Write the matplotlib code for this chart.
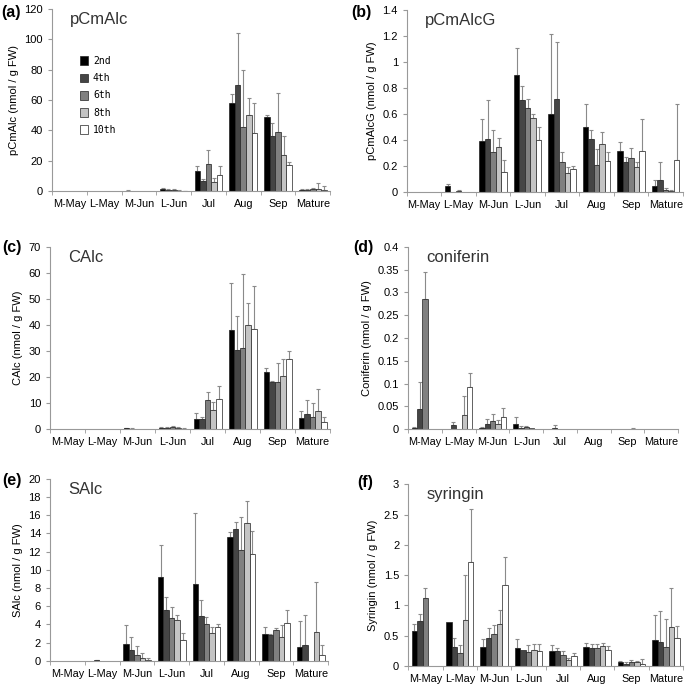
import numpy as np
import matplotlib
matplotlib.use("Agg")
import matplotlib.pyplot as plt
from matplotlib.ticker import FuncFormatter

plt.rcParams['font.family'] = ['Liberation Sans', 'DejaVu Sans']

months = ["M-May", "L-May", "M-Jun", "L-Jun", "Jul", "Aug", "Sep", "Mature"]
leaves = ["2nd", "4th", "6th", "8th", "10th"]
colours = ["#000000", "#454545", "#808080", "#c4c4c4", "#ffffff"]

# rows = months, columns = leaf position
pcmalc = [[0, 0, 0, 0, 0], [0, 0, 0, 0, 0], [0.3, 0, 0, 0, 0],
          [1.2, 0.8, 0.6, 0.3, 0.2], [13, 6.5, 18, 6, 10.5],
          [58, 70, 42, 50, 38], [48.5, 36.5, 39, 24, 17],
          [0.5, 0.8, 1, 1.5, 0.6]]
pcmalc_err = [[0, 0, 0, 0, 0], [0, 0, 0, 0, 0], [0.2, 0, 0, 0, 0],
              [0.6, 0.4, 0.4, 0.3, 0.1], [3.5, 1.5, 9, 2.5, 6],
              [6, 34, 38, 11, 20], [1.5, 8.5, 25.5, 12.5, 2],
              [0.5, 0.7, 1, 3.5, 2.5]]

pcmalcg = [[0.003, 0.002, 0, 0, 0], [0.045, 0, 0.005, 0, 0],
           [0.39, 0.41, 0.31, 0.35, 0.155], [0.9, 0.71, 0.65, 0.57, 0.40],
           [0.60, 0.715, 0.235, 0.15, 0.18], [0.50, 0.41, 0.21, 0.37, 0.24],
           [0.315, 0.23, 0.26, 0.19, 0.315], [0.05, 0.09, 0.015, 0.01, 0.245]]
pcmalcg_err = [[0, 0, 0, 0, 0], [0.02, 0, 0.01, 0, 0],
               [0.17, 0.30, 0.17, 0.07, 0.095], [0.21, 0.11, 0.07, 0.03, 0.10],
               [0.62, 0.44, 0.075, 0.04, 0.02], [0.18, 0.07, 0.12, 0.09, 0.07],
               [0.07, 0.04, 0.08, 0.045, 0.245], [0.04, 0.145, 0.015, 0.005, 0.435]]

calc = [[0, 0, 0, 0, 0], [0, 0, 0, 0, 0], [0.3, 0.2, 0, 0, 0],
        [0.5, 0.5, 0.6, 0.4, 0.2], [4, 3.7, 11, 7.5, 11.5],
        [38, 30.5, 31, 40, 38.5], [22, 18, 18, 20.5, 27],
        [4.2, 5.8, 4.8, 7, 2.8]]
calc_err = [[0, 0, 0, 0, 0], [0, 0, 0, 0, 0], [0.1, 0.1, 0, 0, 0],
            [0.4, 0.4, 0.4, 0.2, 0.1], [2.2, 1, 3.3, 3, 5],
            [18, 13, 28.5, 8.5, 16.5], [1.5, 0.5, 7.5, 6.5, 3],
            [2.6, 5.2, 5.2, 8.5, 1.7]]

coniferin = [[0.003, 0.045, 0.285, 0, 0], [0.001, 0.008, 0, 0.03, 0.093],
             [0.002, 0.01, 0.017, 0.01, 0.026], [0.012, 0.003, 0.004, 0.002, 0],
             [0, 0.003, 0, 0, 0], [0, 0, 0, 0, 0],
             [0, 0, 0, 0.001, 0], [0, 0, 0, 0, 0]]
coniferin_err = [[0.001, 0.059, 0.061, 0, 0], [0, 0.008, 0, 0.042, 0.031],
                 [0.002, 0.012, 0.016, 0.01, 0.02], [0.015, 0.003, 0.003, 0, 0],
                 [0, 0.006, 0, 0, 0], [0, 0, 0, 0, 0],
                 [0, 0, 0, 0.001, 0], [0, 0, 0, 0, 0]]

salc = [[0, 0, 0, 0, 0], [0, 0.1, 0, 0, 0], [1.9, 1.2, 0.6, 0.35, 0.1],
        [9.2, 5.6, 4.7, 4.5, 2.3], [8.4, 4.9, 4.0, 3.1, 3.7],
        [13.6, 14.5, 12.2, 15.2, 11.7], [2.9, 2.8, 3.4, 2.6, 4.2],
        [1.55, 1.75, 0, 3.2, 0.7]]
salc_err = [[0, 0, 0, 0, 0], [0, 0.05, 0, 0, 0], [2.0, 1.4, 1.0, 0.55, 0.2],
            [3.5, 1.4, 1.2, 0.5, 0.8], [7.9, 1.8, 0.8, 0.6, 0.4],
            [0.6, 0.8, 3.6, 2.4, 2.6], [0.8, 0.1, 0.2, 1.3, 1.4],
            [2.85, 3.25, 0, 5.5, 1.1]]

syringin = [[0.58, 0.74, 1.12, 0, 0], [0.73, 0.31, 0.21, 0.76, 1.72],
            [0.32, 0.47, 0.52, 0.70, 1.34], [0.29, 0.27, 0.23, 0.27, 0.25],
            [0.25, 0.24, 0.18, 0.10, 0.17], [0.32, 0.29, 0.29, 0.33, 0.27],
            [0.07, 0.04, 0.07, 0.07, 0.04], [0.43, 0.39, 0.31, 0.64, 0.47]]
syringin_err = [[0.12, 0.12, 0.17, 0, 0], [0, 0.16, 0.14, 0.75, 0.88],
                [0.12, 0.16, 0.15, 0.23, 0.46], [0.15, 0, 0.11, 0.09, 0.11],
                [0.09, 0.05, 0.06, 0.03, 0.05], [0.06, 0.07, 0.07, 0.05, 0.06],
                [0.01, 0.02, 0.03, 0.02, 0.08], [0.42, 0.51, 0.46, 0.65, 0.19]]

# tag, title, y label, values, errors, y max, y step, axes rect, tag position
panels = [
    ("(a)", "pCmAlc", "pCmAlc (nmol / g FW)", pcmalc, pcmalc_err, 120, 20,
     [0.076, 0.722, 0.406, 0.265], (0.002, 0.982)),
    ("(b)", "pCmAlcG", "pCmAlcG (nmol / g FW)", pcmalcg, pcmalcg_err, 1.4, 0.2,
     [0.594, 0.7205, 0.403, 0.2645], (0.513, 0.982)),
    ("(c)", "CAlc", "CAlc (nmol / g FW)", calc, calc_err, 70, 10,
     [0.073, 0.3755, 0.409, 0.265], (0.003, 0.640)),
    ("(d)", "coniferin", "Coniferin (nmol / g FW)", coniferin, coniferin_err, 0.4, 0.05,
     [0.596, 0.3755, 0.394, 0.265], (0.515, 0.640)),
    ("(e)", "SAlc", "SAlc (nmol / g FW)", salc, salc_err, 20, 2,
     [0.073, 0.038, 0.406, 0.265], (0.003, 0.301)),
    ("(f)", "syringin", "Syringin (nmol / g FW)", syringin, syringin_err, 3, 0.5,
     [0.596, 0.0306, 0.401, 0.2644], (0.521, 0.297)),
]

fig = plt.figure(figsize=(6.85, 6.87), dpi=100)
width = 0.16
x = np.arange(len(months)) + 0.5

for tag, title, ylabel, vals, errs, ymax, step, pos, tagpos in panels:
    ax = fig.add_axes(pos)
    vals = np.array(vals).T
    errs = np.array(errs).T
    for i, leaf in enumerate(leaves):
        xs = x + (i - 2) * width
        ax.bar(xs, vals[i], width, color=colours[i], edgecolor="#222222",
               linewidth=0.5, label=leaf, zorder=2)
        has = errs[i] > 0
        ax.errorbar(xs[has], vals[i][has], yerr=[np.zeros(has.sum()), errs[i][has]],
                    fmt="none", ecolor="#8a8a8a", elinewidth=0.8, capsize=1.5,
                    capthick=0.8, zorder=1)
    ax.set_xlim(0, len(months))
    ax.set_ylim(0, ymax)
    ax.set_yticks(np.arange(0, ymax + step / 2, step))
    ax.yaxis.set_major_formatter(FuncFormatter(lambda v, p: f"{v:.10g}" if abs(v) > 1e-9 else "0"))
    ax.set_xticks(x)
    ax.set_xticklabels(months)
    ax.set_xticks(np.arange(len(months) + 1), minor=True)
    ax.tick_params(axis="x", which="major", length=0, labelsize=7.8, pad=6)
    ax.tick_params(axis="x", which="minor", length=3, color="#999999")
    ax.tick_params(axis="y", length=3, color="#999999", labelsize=8)
    for s in ["top", "right"]:
        ax.spines[s].set_visible(False)
    for s in ["left", "bottom"]:
        ax.spines[s].set_color("#999999")
        ax.spines[s].set_linewidth(0.8)
    ax.set_ylabel(ylabel, fontsize=8, labelpad=4)
    ax.text(0.065, 0.985, title, transform=ax.transAxes, fontsize=12,
            color="#333333", va="top", ha="left")
    fig.text(tagpos[0], tagpos[1], tag, fontsize=11.5, fontweight="bold",
             va="center", ha="left")
    if tag == "(a)":
        ax.legend(loc="upper left", bbox_to_anchor=(0.07, 0.79), frameon=False,
                  prop={"family": "DejaVu Sans Mono", "size": 7},
                  handlelength=0.8, handleheight=1.0, handletextpad=0.5,
                  labelspacing=0.75)

fig.savefig("out.png", dpi=100)
